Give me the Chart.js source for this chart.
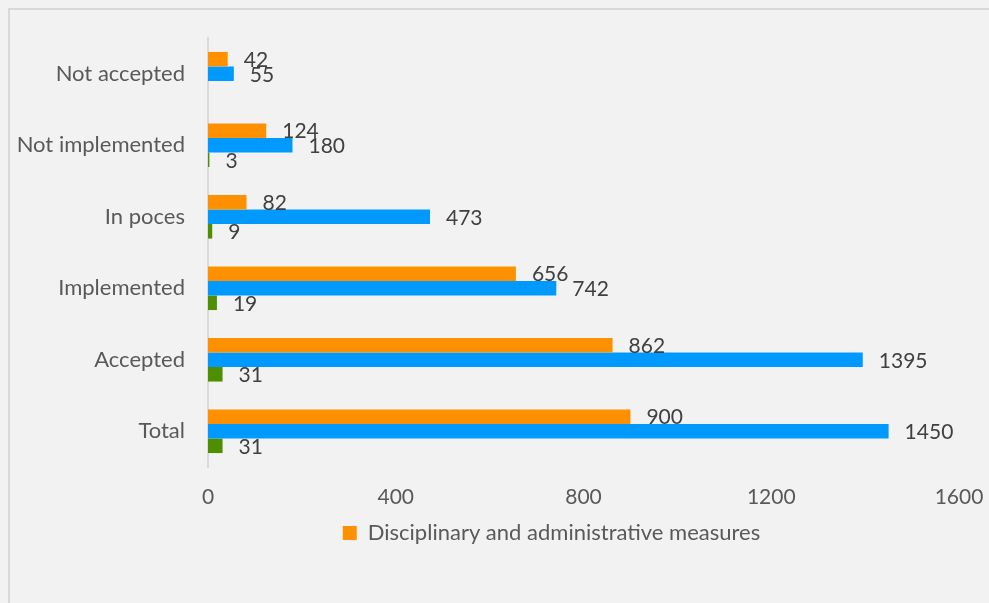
<!DOCTYPE html>
<html>
<head>
<meta charset="utf-8">
<script src="https://cdn.jsdelivr.net/npm/chart.js@4.4.1/dist/chart.umd.min.js"></script>
<style>
  html, body { margin: 0; padding: 0; background: #f2f2f2; overflow: hidden; }
  #wrap { position: relative; width: 989px; height: 603px; }
  /* frame of the chart box, only the top and left edges are on screen */
  #frame {
    position: absolute; left: 8px; top: 8px; width: 1100px; height: 700px;
    border-left: 2px solid #d9d9d9; border-top: 2px solid #d9d9d9;
  }
  canvas { position: absolute; left: 0; top: 0; }
</style>
</head>
<body>
<div id="wrap">
  <div id="frame"></div>
  <canvas id="grafico" width="989" height="603"></canvas>
</div>
<script>
const categorias = ["Not accepted", "Not implemented", "In poces", "Implemented", "Accepted", "Total"];
const medidas = [42, 124, 82, 656, 862, 900];       // Disciplinary and administrative measures
const recomendaciones = [55, 180, 473, 742, 1395, 1450];
const otros = [null, 3, 9, 19, 31, 31];
const ticksX = [0, 400, 800, 1200, 1600];

const fuente = "Lato, 'Open Sans', sans-serif";

// escribe el valor a la derecha de cada barra
const etiquetasValor = {
  id: "etiquetasValor",
  afterDatasetsDraw(chart) {
    const ctx = chart.ctx;
    ctx.save();
    ctx.font = "21px " + fuente;
    ctx.fillStyle = "#404040";
    ctx.textAlign = "left";
    ctx.textBaseline = "middle";
    chart.data.datasets.forEach((ds, i) => {
      chart.getDatasetMeta(i).data.forEach((bar, j) => {
        const v = ds.data[j];
        if (v === null) return;
        ctx.fillText(String(v), bar.x + 16, bar.y + 1);
      });
    });
    ctx.restore();
  }
};

// corre la leyenda hacia la derecha
const moverLeyenda = {
  id: "moverLeyenda",
  afterLayout(chart) {
    chart.legend.left += 72;
    chart.legend.right += 72;
  }
};

new Chart(document.getElementById("grafico"), {
  type: "bar",
  data: {
    labels: categorias,
    datasets: [
      { label: "Disciplinary and administrative measures", data: medidas, backgroundColor: "#ff9100" },
      { label: "Recommendations", data: recomendaciones, backgroundColor: "#0099ff" },
      { label: "Other", data: otros, backgroundColor: "#4e8f00" }
    ]
  },
  options: {
    indexAxis: "y",
    responsive: false,
    animation: false,
    devicePixelRatio: 1,
    layout: { padding: { left: 0, right: 30, top: 38, bottom: 49 } },
    datasets: { bar: { barPercentage: 1, categoryPercentage: 0.61 } },
    scales: {
      x: {
        min: 0,
        max: 1600,
        afterBuildTicks: (scale) => { scale.ticks = ticksX.map(v => ({ value: v })); },
        afterFit: (scale) => { scale.height = 45; scale.paddingRight = 0; scale.paddingLeft = 0; },
        grid: { display: false, drawTicks: false },
        border: { display: false },
        ticks: {
          color: "#595959",
          padding: 18,
          font: { family: fuente, size: 21 },
          callback: (v) => String(v)
        }
      },
      y: {
        afterFit: (scale) => { scale.width = 208; },
        grid: { display: false, drawTicks: false },
        border: { display: true, color: "#d9d9d9", width: 2 },
        ticks: { color: "#595959", padding: 23, font: { family: fuente, size: 22 } }
      }
    },
    plugins: {
      tooltip: { enabled: false },
      legend: {
        position: "bottom",
        labels: {
          filter: (item) => item.datasetIndex === 0,
          boxWidth: 14,
          boxHeight: 14,
          color: "#595959",
          padding: 10,
          font: { family: fuente, size: 22 }
        }
      }
    }
  },
  plugins: [etiquetasValor, moverLeyenda]
});
</script>
</body>
</html>
